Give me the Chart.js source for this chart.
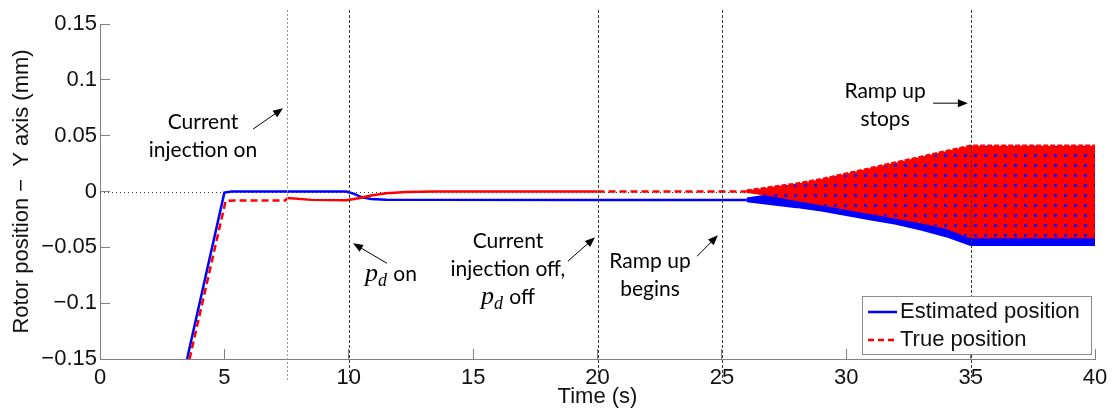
<!DOCTYPE html>
<html lang="en">
<head>
<meta charset="UTF-8">
<title>Rotor position - Y axis</title>
<script src="https://cdn.jsdelivr.net/npm/chart.js"></script>
<style>
  body { margin: 0; background: #ffffff; }
  #wrap { width: 1114px; height: 410px; }
</style>
</head>
<body>
<div id="wrap"><canvas id="rotorChart" width="1114" height="410"></canvas></div>
<script>
// smooth part of both traces, time (s) / position (mm)
const estTime  = [3.5, 5.0, 5.3, 7.5, 9.9, 10.2, 10.5, 10.9, 11.5, 13, 20, 25, 26];
const estPos   = [-0.15, -0.001, 0.0, 0.0, 0.0, -0.002, -0.005, -0.0068, -0.0073, -0.0075, -0.0075, -0.0075, -0.0075];
const trueTime = [3.6, 5.05, 5.4, 7.45, 7.55, 8.5, 9.9, 10.4, 10.9, 11.5, 12.3, 13.5, 20, 26];
const truePos  = [-0.15, -0.0085, -0.008, -0.008, -0.0058, -0.0075, -0.0078, -0.006, -0.0035, -0.0015, -0.0005, 0.0, 0.0, 0.0];

// oscillating part (ramp up): upper / lower envelopes of each trace
const bandTime  = [26, 27, 28, 29, 30, 31, 32, 33, 34, 35, 40];
const estUpper  = [-0.0062, -0.003, -0.0005, 0.003, 0.008, 0.013, 0.018, 0.023, 0.028, 0.033, 0.033];
const estLower  = [-0.0088, -0.0115, -0.014, -0.017, -0.021, -0.025, -0.029, -0.034, -0.040, -0.048, -0.048];
const trueUpper = [0.0008, 0.004, 0.007, 0.011, 0.016, 0.021, 0.026, 0.031, 0.036, 0.041, 0.041];
const trueLower = [-0.0008, -0.004, -0.008, -0.012, -0.016, -0.020, -0.024, -0.028, -0.033, -0.0415, -0.0415];

const xTicks = [0, 5, 10, 15, 20, 25, 30, 35, 40];
const xTickLabels = ['0', '5', '10', '15', '20', '25', '30', '35', '40'];
const yTicks = [-0.15, -0.1, -0.05, 0, 0.05, 0.1, 0.15];
const yTickLabels = ['\u22120.15', '\u22120.1', '\u22120.05', '0', '0.05', '0.1', '0.15'];

const eventTimes = [7.5, 10, 20, 25, 35];
const seriesNames = ['Estimated position', 'True position'];

// annotation texts, anchored in data coordinates
const notes = [
  { x: 4.14, y: 0.062, lines: ['Current', 'injection on'], arrow: [6.15, 0.0558, 7.36, 0.0746] },
  { x: 10.65, y: -0.0741, lines: ['{pd} on'], left: true, arrow: [11.54, -0.0643, 10.17, -0.0464] },
  { x: 16.4, y: -0.0445, lines: ['Current', 'injection off,', '{pd} off'], arrow: [18.81, -0.0624, 19.9, -0.041] },
  { x: 22.11, y: -0.0624, lines: ['Ramp up', 'begins'], arrow: [24.0, -0.058, 24.84, -0.0392] },
  { x: 31.56, y: 0.0898, lines: ['Ramp up', 'stops'], arrow: [33.49, 0.0791, 34.89, 0.0791] }
];

const pts = (xs, ys) => xs.map((x, i) => ({ x: x, y: ys[i] }));

const canvas = document.getElementById('rotorChart');
const ctx = canvas.getContext('2d');

// red band with the blue speckle you get from the overlapping fast oscillation
const tile = document.createElement('canvas');
tile.width = 10; tile.height = 10;
const tctx = tile.getContext('2d');
tctx.fillStyle = '#ff0000';
tctx.fillRect(0, 0, 10, 10);
tctx.fillStyle = '#1010ff';
tctx.fillRect(4, 4, 3, 3);
const speckle = ctx.createPattern(tile, 'repeat');

const NOTE_FONT = '21px Lato';

function pdWidth(c) {
  c.font = 'italic 26px "Liberation Serif"';
  let w = c.measureText('p').width;
  c.font = 'italic 18px "Liberation Serif"';
  return w + c.measureText('d').width + 1;
}

function richWidth(c, line) {
  const parts = line.split('{pd}');
  let w = 0;
  parts.forEach((p, i) => {
    if (i > 0) w += pdWidth(c);
    c.font = NOTE_FONT;
    w += c.measureText(p).width;
  });
  return w;
}

function drawRich(c, line, x, base) {
  const parts = line.split('{pd}');
  parts.forEach((p, i) => {
    if (i > 0) {
      c.font = 'italic 26px "Liberation Serif"';
      c.fillText('p', x, base);
      x += c.measureText('p').width;
      c.font = 'italic 18px "Liberation Serif"';
      c.fillText('d', x, base + 5);
      x += c.measureText('d').width + 1;
    }
    c.font = NOTE_FONT;
    c.fillText(p, x, base);
    x += c.measureText(p).width;
  });
}

function drawArrow(c, x1, y1, x2, y2) {
  const a = Math.atan2(y2 - y1, x2 - x1), h = 10, w = 4;
  c.beginPath();
  c.moveTo(x1, y1);
  c.lineTo(x2 - Math.cos(a) * h * 0.7, y2 - Math.sin(a) * h * 0.7);
  c.stroke();
  c.beginPath();
  c.moveTo(x2, y2);
  c.lineTo(x2 - h * Math.cos(a) + w * Math.sin(a), y2 - h * Math.sin(a) - w * Math.cos(a));
  c.lineTo(x2 - h * Math.cos(a) - w * Math.sin(a), y2 - h * Math.sin(a) + w * Math.cos(a));
  c.closePath();
  c.fill();
}

const refLines = {
  id: 'refLines',
  beforeDatasetsDraw(chart) {
    const c = chart.ctx, a = chart.chartArea;
    const y0 = chart.scales.y.getPixelForValue(0);
    c.save();
    c.strokeStyle = '#333';
    c.lineWidth = 1;
    c.setLineDash([1, 3]);
    c.beginPath();
    c.moveTo(a.left, Math.round(y0) + 0.5);
    c.lineTo(a.right, Math.round(y0) + 0.5);
    c.stroke();
    c.restore();
  },
  afterDatasetsDraw(chart) {
    const c = chart.ctx, a = chart.chartArea;
    c.save();
    c.lineWidth = 1;
    eventTimes.forEach((t, i) => {
      const x = Math.round(chart.scales.x.getPixelForValue(t)) + 0.5;
      c.strokeStyle = i === 0 ? '#9a9a9a' : '#3a3a3a';
      c.setLineDash(i === 0 ? [2, 2] : [3, 2]);
      c.beginPath();
      c.moveTo(x, a.top - 14);
      c.lineTo(x, a.bottom + 22);
      c.stroke();
    });
    c.restore();
  }
};

const labels = {
  id: 'labels',
  afterDraw(chart) {
    const c = chart.ctx, sx = chart.scales.x, sy = chart.scales.y;
    c.save();
    c.fillStyle = '#000';
    c.strokeStyle = '#000';
    c.lineWidth = 1;
    c.textBaseline = 'alphabetic';
    notes.forEach(n => {
      const cx = sx.getPixelForValue(n.x), cy = sy.getPixelForValue(n.y);
      n.lines.forEach((line, k) => {
        const w = richWidth(c, line);
        const left = n.left ? cx : cx - w / 2;
        drawRich(c, line, left, cy + 7 + k * 28);
      });
      const ar = n.arrow;
      drawArrow(c, sx.getPixelForValue(ar[0]), sy.getPixelForValue(ar[1]),
                sx.getPixelForValue(ar[2]), sy.getPixelForValue(ar[3]));
    });

    // legend box, bottom right inside the axes
    const bx = 862, by = 296, bw = 229, bh = 58;
    c.fillStyle = '#fff';
    c.fillRect(bx, by, bw, bh);
    c.strokeStyle = '#8c8c8c';
    c.strokeRect(bx + 0.5, by + 0.5, bw, bh);
    c.lineWidth = 2.5;
    c.strokeStyle = '#0000ff';
    c.beginPath(); c.moveTo(868, 312); c.lineTo(897, 312); c.stroke();
    c.strokeStyle = '#ff0000';
    c.setLineDash([6, 4]);
    c.beginPath(); c.moveTo(868, 340); c.lineTo(897, 340); c.stroke();
    c.setLineDash([]);
    c.fillStyle = '#111';
    c.font = '22px "Liberation Sans"';
    c.textBaseline = 'middle';
    c.fillText(seriesNames[0], 900, 312);
    c.fillText(seriesNames[1], 900, 340);
    c.restore();
  }
};

new Chart(ctx, {
  type: 'line',
  data: {
    datasets: [
      {
        label: seriesNames[0], data: pts(estTime, estPos),
        borderColor: '#0000ff', borderWidth: 2.5, fill: false, order: 4
      },
      {
        label: seriesNames[1], data: pts(trueTime, truePos),
        borderColor: '#ff0000', borderWidth: 2.5, borderDash: [7, 4], fill: false, order: 3,
        segment: {
          borderDash: s => (s.p0.parsed.x >= 7.5 && s.p1.parsed.x <= 20) ? [] : undefined
        }
      },
      { label: 'est lo', data: pts(bandTime, estLower), borderColor: '#0000ff', borderWidth: 2, fill: false, order: 6 },
      { label: 'est hi', data: pts(bandTime, estUpper), borderColor: '#0000ff', borderWidth: 2,
        backgroundColor: '#0000ff', fill: '-1', order: 5 },
      { label: 'true lo', data: pts(bandTime, trueLower), borderColor: '#ff0000', borderWidth: 1, fill: false, order: 2 },
      { label: 'true hi', data: pts(bandTime, trueUpper), borderColor: '#ff0000', borderWidth: 2.5,
        borderDash: [5, 2], backgroundColor: speckle, fill: '-1', order: 1 }
    ]
  },
  options: {
    responsive: false,
    animation: false,
    events: [],
    layout: { padding: { top: 24, right: 19, left: 0, bottom: 0 } },
    elements: { point: { radius: 0 }, line: { tension: 0 } },
    plugins: { legend: { display: false }, tooltip: { enabled: false } },
    scales: {
      x: {
        type: 'linear', min: 0, max: 40,
        afterBuildTicks: s => { s.ticks = xTicks.map(v => ({ value: v })); },
        afterFit: s => { s.height = 51; s.paddingRight = 0; s.paddingLeft = 0; },
        ticks: {
          padding: 16, color: '#111', font: { family: 'Liberation Sans', size: 22 },
          callback: (v, i) => xTickLabels[i]
        },
        grid: { drawOnChartArea: false, tickLength: -10, tickColor: '#808080' },
        border: { color: '#808080', width: 1 },
        title: {
          display: true, text: 'Time (s)', color: '#111',
          font: { family: 'Liberation Sans', size: 22 }, padding: { top: 0, bottom: 0 }
        }
      },
      y: {
        min: -0.15, max: 0.15,
        afterBuildTicks: s => { s.ticks = yTicks.map(v => ({ value: v })); },
        afterFit: s => { s.width = 100; s.paddingTop = 0; s.paddingBottom = 0; },
        ticks: {
          padding: 13, color: '#111', font: { family: 'Liberation Sans', size: 22 },
          callback: (v, i) => yTickLabels[i]
        },
        grid: { drawOnChartArea: false, tickLength: -10, tickColor: '#808080' },
        border: { color: '#808080', width: 1 },
        title: {
          display: true, text: 'Rotor position \u2212  Y axis (mm)', color: '#111',
          font: { family: 'Liberation Sans', size: 22 }, padding: { top: 9, bottom: 0 }
        }
      }
    }
  },
  plugins: [refLines, labels]
});
</script>
</body>
</html>
